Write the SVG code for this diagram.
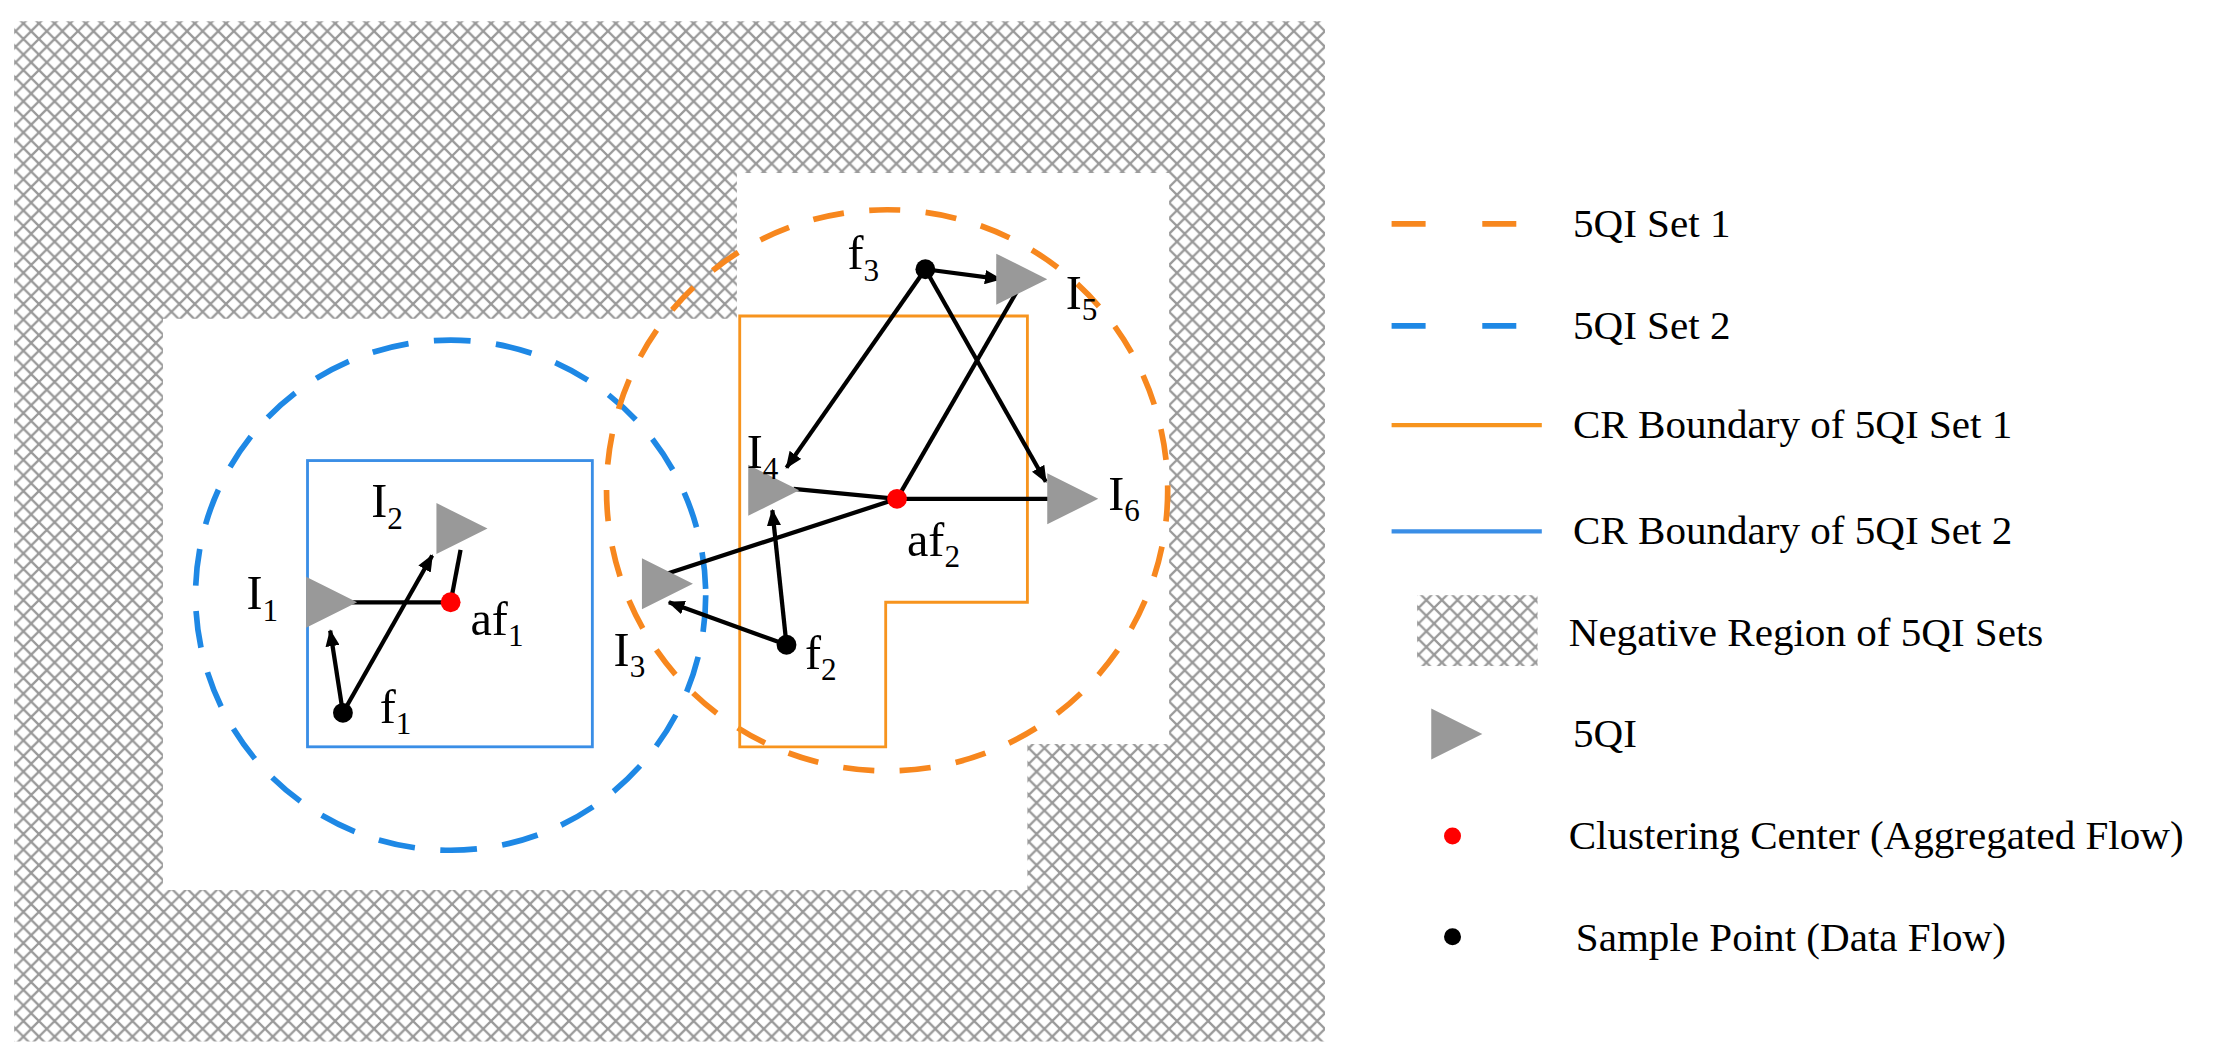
<svg xmlns="http://www.w3.org/2000/svg" width="2222" height="1063" viewBox="0 0 2222 1063">
<style>
text{font-family:"Liberation Serif","Times New Roman",serif;fill:#000}
.lb{font-size:34px}
.lg{font-size:29px}
.tri{fill:#999}
.ln{stroke:#000;stroke-width:3;fill:none}
.ar{stroke:#000;stroke-width:3;fill:none;marker-end:url(#ah)}
</style>
<defs>
<pattern id="hatch" width="22" height="22" patternUnits="userSpaceOnUse">
<rect width="22" height="22" fill="#fff"/>
<path d="M0 22L22 0M-6 6L6 -6M16 28L28 16M0 0L22 22M-6 16L6 28M16 -6L28 6M0 11L11 0M11 22L22 11M0 11L11 22M11 0L22 11" stroke="#999" stroke-width="1.6"/>
</pattern>
<marker id="ah" markerWidth="12" markerHeight="10" refX="11" refY="5" orient="auto" markerUnits="userSpaceOnUse">
<path d="M0 0L12 5L0 10z" fill="#000"/>
</marker>
</defs>
<rect width="2222" height="1063" fill="#fff"/>
<g transform="scale(1.4171)">
<g id="negative-region">
<path d="M10 15H935V735H10Z M115 225V628H725V525H825V122H520V225Z" fill="url(#hatch)" fill-rule="evenodd"/>
</g>
<g id="set2-circle"><circle cx="318" cy="420" r="180" fill="none" stroke="#1e88e5" stroke-width="4" stroke-dasharray="26 18"/></g>
<g id="set1-circle"><circle cx="626" cy="346" r="198" fill="none" stroke="#f7871e" stroke-width="4" stroke-dasharray="22 18"/></g>
<g id="set2-boundary"><rect x="217" y="325" width="201" height="202" fill="none" stroke="#3a8ee6" stroke-width="2"/></g>
<g id="set1-boundary"><path d="M522 223H725V425H625V527H522Z" fill="none" stroke="#f7941e" stroke-width="2"/></g>
<g id="connectors">
<line class="ln" x1="248" y1="425" x2="318" y2="425"/>
<line class="ln" x1="318" y1="425" x2="325" y2="388"/>
<line class="ar" x1="242" y1="503" x2="233" y2="445"/>
<line class="ar" x1="242" y1="503" x2="305" y2="392"/>
<line class="ln" x1="633" y1="352" x2="560" y2="345"/>
<line class="ln" x1="633" y1="352" x2="470" y2="405"/>
<line class="ln" x1="633" y1="352" x2="718" y2="205"/>
<line class="ln" x1="633" y1="352" x2="740" y2="352"/>
<line class="ar" x1="555" y1="455" x2="472" y2="425"/>
<line class="ar" x1="555" y1="455" x2="545" y2="360"/>
<line class="ar" x1="653" y1="190" x2="555" y2="330"/>
<line class="ar" x1="653" y1="190" x2="706" y2="197"/>
<line class="ar" x1="653" y1="190" x2="738" y2="340"/>
</g>
<g id="I1"><path class="tri" d="M216 407L252 425L216 443Z"/><text class="lb" x="174" y="430">I<tspan font-size="22" dy="8">1</tspan></text></g>
<g id="I2"><path class="tri" d="M308 355L344 373L308 391Z"/><text class="lb" x="262" y="365">I<tspan font-size="22" dy="8">2</tspan></text></g>
<g id="I3"><path class="tri" d="M453 394L489 412L453 430Z"/><text class="lb" x="433" y="470">I<tspan font-size="22" dy="8">3</tspan></text></g>
<g id="I4"><path class="tri" d="M528 328L564 346L528 364Z"/><text class="lb" x="527" y="330">I<tspan font-size="22" dy="8">4</tspan></text></g>
<g id="I5"><path class="tri" d="M703 179L739 197L703 215Z"/><text class="lb" x="752" y="218">I<tspan font-size="22" dy="8">5</tspan></text></g>
<g id="I6"><path class="tri" d="M739 334L775 352L739 370Z"/><text class="lb" x="782" y="360">I<tspan font-size="22" dy="8">6</tspan></text></g>
<g id="af1"><circle cx="318" cy="425" r="7" fill="#f00"/><text class="lb" x="332" y="448">af<tspan font-size="22" dy="8">1</tspan></text></g>
<g id="af2"><circle cx="633" cy="352" r="7" fill="#f00"/><text class="lb" x="640" y="392">af<tspan font-size="22" dy="8">2</tspan></text></g>
<g id="f1"><circle cx="242" cy="503" r="7" fill="#000"/><text class="lb" x="268" y="510">f<tspan font-size="22" dy="8">1</tspan></text></g>
<g id="f2"><circle cx="555" cy="455" r="7" fill="#000"/><text class="lb" x="568" y="472">f<tspan font-size="22" dy="8">2</tspan></text></g>
<g id="f3"><circle cx="653" cy="190" r="7" fill="#000"/><text class="lb" x="598" y="190">f<tspan font-size="22" dy="8">3</tspan></text></g>
<g id="legend">
<line x1="982" y1="158" x2="1088" y2="158" stroke="#f7871e" stroke-width="4" stroke-dasharray="24 40"/>
<text class="lg" x="1110" y="167">5QI Set 1</text>
<line x1="982" y1="230" x2="1088" y2="230" stroke="#1e88e5" stroke-width="4" stroke-dasharray="24 40"/>
<text class="lg" x="1110" y="239">5QI Set 2</text>
<line x1="982" y1="300" x2="1088" y2="300" stroke="#f7941e" stroke-width="3"/>
<text class="lg" x="1110" y="309">CR Boundary of 5QI Set 1</text>
<line x1="982" y1="375" x2="1088" y2="375" stroke="#3a8ee6" stroke-width="3"/>
<text class="lg" x="1110" y="384">CR Boundary of 5QI Set 2</text>
<rect x="1000" y="420" width="85" height="50" fill="url(#hatch)"/>
<text class="lg" x="1107" y="456">Negative Region of 5QI Sets</text>
<path class="tri" d="M1010 500L1046 518L1010 536Z"/>
<text class="lg" x="1110" y="527">5QI</text>
<circle cx="1025" cy="590" r="6" fill="#f00"/>
<text class="lg" x="1107" y="599">Clustering Center (Aggregated Flow)</text>
<circle cx="1025" cy="661" r="6" fill="#000"/>
<text class="lg" x="1112" y="671">Sample Point (Data Flow)</text>
</g>
</g>
</svg>
